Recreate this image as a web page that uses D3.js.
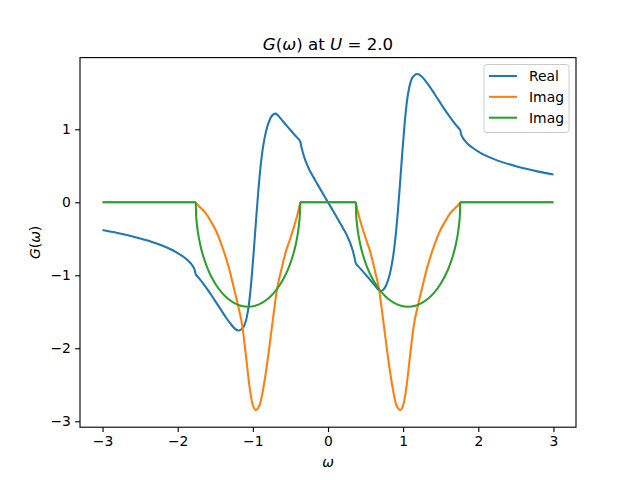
<!DOCTYPE html>
<html><head><meta charset="utf-8">
<script src="https://cdn.jsdelivr.net/npm/d3@7"></script>
<style>
body{margin:0;background:#fff}
text{font-family:"DejaVu Sans",sans-serif;fill:#000}
</style>
</head><body>
<svg id="chart" width="640" height="480"></svg>
<script>
// ---------- data ----------
const xTicks = [-3, -2, -1, 0, 1, 2, 3];
const yTicks = [-3, -2, -1, 0, 1];
const seriesNames = ["Real", "Imag", "Imag"];
const seriesColors = ["#1f77b4", "#ff7f0e", "#2ca02c"];

// Real part, split at the band-edge kinks
const realOuterLeft = [[-3.0,-0.38],[-2.8,-0.42],[-2.65,-0.455],[-2.5,-0.495],[-2.35,-0.54],[-2.2,-0.595],[-2.1,-0.64],[-2.0,-0.695],[-1.92,-0.75],[-1.86,-0.80],[-1.82,-0.845],[-1.79,-0.89],[-1.77,-0.94],[-1.76,-0.99]];
const realBandLeft = [[-1.76,-0.99],[-1.71,-1.05],[-1.66,-1.115],[-1.60,-1.20],[-1.54,-1.29],[-1.48,-1.385],[-1.42,-1.48],[-1.36,-1.575],[-1.30,-1.66],[-1.24,-1.73],[-1.19,-1.757],[-1.15,-1.74],[-1.11,-1.68],[-1.08,-1.57],[-1.05,-1.38],[-1.02,-1.08],[-0.99,-0.70],[-0.96,-0.28],[-0.93,0.12],[-0.90,0.46],[-0.87,0.72],[-0.84,0.90],[-0.81,1.03],[-0.78,1.12],[-0.75,1.18],[-0.72,1.21],[-0.70,1.215],[-0.67,1.195],[-0.64,1.16],[-0.60,1.11],[-0.55,1.05],[-0.50,0.99],[-0.45,0.93],[-0.40,0.875],[-0.37,0.84]];
const realInner = [[-0.37,0.84],[-0.35,0.745],[-0.33,0.665],[-0.30,0.57],[-0.25,0.45],[-0.20,0.355],[-0.15,0.265],[-0.10,0.175],[-0.05,0.087],[0,0],[0.05,-0.087],[0.10,-0.175],[0.15,-0.265],[0.20,-0.355],[0.25,-0.45],[0.30,-0.57],[0.33,-0.665],[0.35,-0.745],[0.37,-0.84]];
const realBandRight = [[0.37,-0.84],[0.40,-0.875],[0.45,-0.93],[0.50,-0.99],[0.55,-1.05],[0.60,-1.11],[0.64,-1.16],[0.67,-1.195],[0.70,-1.215],[0.72,-1.21],[0.75,-1.18],[0.78,-1.12],[0.81,-1.03],[0.84,-0.90],[0.87,-0.72],[0.90,-0.46],[0.93,-0.12],[0.96,0.28],[0.99,0.70],[1.02,1.08],[1.05,1.38],[1.08,1.57],[1.11,1.68],[1.15,1.74],[1.19,1.757],[1.24,1.73],[1.30,1.66],[1.36,1.575],[1.42,1.48],[1.48,1.385],[1.54,1.29],[1.60,1.20],[1.66,1.115],[1.71,1.05],[1.76,0.99]];
const realOuterRight = [[1.76,0.99],[1.77,0.94],[1.79,0.89],[1.82,0.845],[1.86,0.80],[1.92,0.75],[2.0,0.695],[2.1,0.64],[2.2,0.595],[2.35,0.54],[2.5,0.495],[2.65,0.455],[2.8,0.42],[3.0,0.38]];

// first imaginary curve (orange)
const imagAFlatLeft = [[-3.0,0],[-1.76,0]];
const imagABandLeft = [[-1.76,0],[-1.73,-0.04],[-1.68,-0.09],[-1.62,-0.16],[-1.56,-0.26],[-1.50,-0.37],[-1.45,-0.49],[-1.40,-0.63],[-1.35,-0.79],[-1.31,-0.93],[-1.27,-1.10],[-1.20,-1.40],[-1.14,-1.70],[-1.09,-2.12],[-1.04,-2.56],[-1.0,-2.78],[-0.96,-2.845],[-0.91,-2.78],[-0.87,-2.60],[-0.83,-2.35],[-0.78,-1.98],[-0.73,-1.58],[-0.68,-1.20],[-0.62,-0.92],[-0.56,-0.67],[-0.51,-0.52],[-0.46,-0.36],[-0.42,-0.22],[-0.39,-0.10],[-0.37,0]];
const imagAFlatMid = [[-0.37,0],[0.37,0]];
const imagABandRight = [[0.37,0],[0.39,-0.10],[0.42,-0.22],[0.46,-0.36],[0.51,-0.52],[0.56,-0.67],[0.62,-0.92],[0.68,-1.20],[0.73,-1.58],[0.78,-1.98],[0.83,-2.35],[0.87,-2.60],[0.91,-2.78],[0.96,-2.845],[1.0,-2.78],[1.04,-2.56],[1.09,-2.12],[1.14,-1.70],[1.20,-1.40],[1.27,-1.10],[1.31,-0.93],[1.35,-0.79],[1.40,-0.63],[1.45,-0.49],[1.50,-0.37],[1.56,-0.26],[1.62,-0.16],[1.68,-0.09],[1.73,-0.04],[1.76,0]];
const imagAFlatRight = [[1.76,0],[3.0,0]];

// second imaginary curve (green)
const imagBFlatLeft = [[-3.0,0],[-1.76,0]];
const imagBBandLeft = [[-1.76,0],[-1.755,-0.171],[-1.745,-0.295],[-1.73,-0.416],[-1.70,-0.581],[-1.66,-0.739],[-1.61,-0.887],[-1.55,-1.024],[-1.48,-1.147],[-1.41,-1.241],[-1.33,-1.322],[-1.25,-1.378],[-1.16,-1.417],[-1.065,-1.43],[-0.97,-1.417],[-0.88,-1.378],[-0.80,-1.322],[-0.72,-1.241],[-0.65,-1.147],[-0.58,-1.024],[-0.52,-0.887],[-0.47,-0.739],[-0.43,-0.581],[-0.40,-0.416],[-0.385,-0.295],[-0.375,-0.171],[-0.37,0]];
const imagBFlatMid = [[-0.37,0],[0.37,0]];
const imagBBandRight = [[0.37,0],[0.375,-0.171],[0.385,-0.295],[0.40,-0.416],[0.43,-0.581],[0.47,-0.739],[0.52,-0.887],[0.58,-1.024],[0.65,-1.147],[0.72,-1.241],[0.80,-1.322],[0.88,-1.378],[0.97,-1.417],[1.065,-1.43],[1.16,-1.417],[1.25,-1.378],[1.33,-1.322],[1.41,-1.241],[1.48,-1.147],[1.55,-1.024],[1.61,-0.887],[1.66,-0.739],[1.70,-0.581],[1.73,-0.416],[1.745,-0.295],[1.755,-0.171],[1.76,0]];
const imagBFlatRight = [[1.76,0],[3.0,0]];

const series = [
  [realOuterLeft, realBandLeft, realInner, realBandRight, realOuterRight],
  [imagAFlatLeft, imagABandLeft, imagAFlatMid, imagABandRight, imagAFlatRight],
  [imagBFlatLeft, imagBBandLeft, imagBFlatMid, imagBBandRight, imagBFlatRight]
];

// ---------- layout ----------
const L = 80, R = 576, T = 57.6, B = 427.2;
const svg = d3.select("#chart");

const x = d3.scaleLinear().domain([-3.3, 3.3]).range([L, R]);
const y = d3.scaleLinear().domain([-3.081, 1.982]).range([B, T]);

const line = d3.line().x(d => x(d[0])).y(d => y(d[1])).curve(d3.curveMonotoneX);

const plot = svg.append("g");
plot.append("defs").append("clipPath").attr("id","clip")
  .append("rect").attr("x",L).attr("y",T).attr("width",R-L).attr("height",B-T);

series.forEach((segs, i) => {
  const d = segs.map(s => line(s)).join("");
  plot.append("path").attr("d", d).attr("fill","none")
    .attr("stroke", seriesColors[i]).attr("stroke-width", 2.08)
    .attr("stroke-linejoin","round").attr("stroke-linecap","butt")
    .attr("clip-path","url(#clip)");
});

// axes
const fmt = d => d < 0 ? "\u2212" + Math.abs(d) : String(d);
const xAxis = d3.axisBottom(x).tickValues(xTicks).tickSize(4.86).tickPadding(4.2).tickFormat(fmt);
const yAxis = d3.axisLeft(y).tickValues(yTicks).tickSize(4.86).tickPadding(4.2).tickFormat(fmt);

const gx = svg.append("g").attr("transform", `translate(0,${B})`).call(xAxis);
const gy = svg.append("g").attr("transform", `translate(${L},0)`).call(yAxis);
[gx, gy].forEach(g => {
  g.select(".domain").remove();
  g.selectAll(".tick line").attr("stroke","#000").attr("stroke-width",1.11);
  g.selectAll(".tick text").attr("font-family","DejaVu Sans").attr("font-size","13.9px").attr("fill","#000");
});

// frame
svg.append("rect").attr("x",L).attr("y",T).attr("width",R-L).attr("height",B-T)
  .attr("fill","none").attr("stroke","#000").attr("stroke-width",1.11);

// title
const title = svg.append("text").attr("x",(L+R)/2).attr("y",50).attr("text-anchor","middle")
  .attr("font-size","16.67px");
title.append("tspan").attr("font-style","italic").text("G");
title.append("tspan").text("(");
title.append("tspan").attr("font-style","italic").text("ω");
title.append("tspan").text(") at ");
title.append("tspan").attr("font-style","italic").text("U");
title.append("tspan").text(" = 2.0");

// x label
svg.append("text").attr("x",(L+R)/2).attr("y",467).attr("text-anchor","middle")
  .attr("font-size","13.9px").attr("font-style","italic").text("ω");

// y label
const yl = svg.append("text").attr("transform",`translate(40,${(T+B)/2}) rotate(-90)`)
  .attr("text-anchor","middle").attr("font-size","13.9px");
yl.append("tspan").attr("font-style","italic").text("G");
yl.append("tspan").text("(");
yl.append("tspan").attr("font-style","italic").text("ω");
yl.append("tspan").text(")");

// legend
const lg = svg.append("g");
lg.append("rect").attr("x",484).attr("y",64.5).attr("width",85).attr("height",68)
  .attr("rx",2.8).attr("fill","#fff").attr("fill-opacity",0.8)
  .attr("stroke","#cccccc").attr("stroke-width",1);
seriesNames.forEach((n, i) => {
  const yy = 76 + i * 20.85;
  lg.append("line").attr("x1",489).attr("x2",517).attr("y1",yy).attr("y2",yy)
    .attr("stroke",seriesColors[i]).attr("stroke-width",2.08);
  lg.append("text").attr("x",529).attr("y",yy+5).attr("font-size","13.9px").text(n);
});
</script>
</body></html>
